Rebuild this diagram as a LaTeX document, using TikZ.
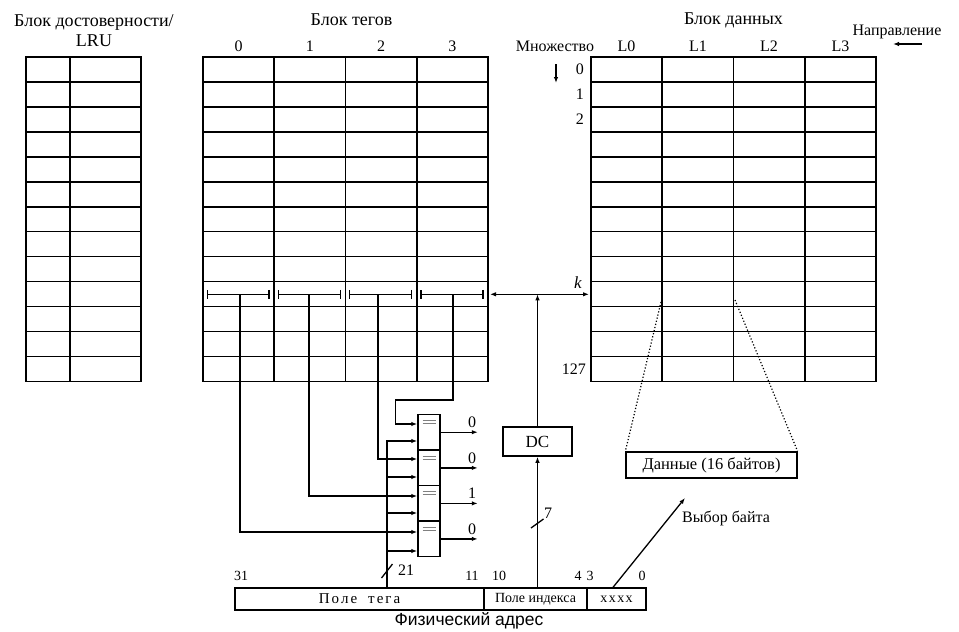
\documentclass[tikz,border=0pt]{standalone}
\usepackage{fontspec}
\setmainfont{Liberation Serif}
\newfontfamily\sansfam{Liberation Sans}
\usetikzlibrary{arrows.meta,calc}
\begin{document}
\begin{tikzpicture}[x=1pt,y=-1pt,
  grid/.style={line width=1.6pt,line cap=rect},
  wire/.style={line width=1.3pt},
  arr/.style={wire,-{Latex[length=6pt,width=4.5pt]}},
  txt/.style={inner sep=0pt,font=\fontsize{16}{18}\selectfont},
  head/.style={inner sep=0pt,font=\fontsize{18}{20.5}\selectfont,align=center},
  bitn/.style={inner sep=0pt,font=\fontsize{14}{16}\selectfont},
  cmpbox/.style={draw,line width=1.5pt,minimum width=22pt,minimum height=35.6pt,inner sep=0pt},
  field/.style={draw,line width=1.3pt,minimum height=22pt,inner sep=0pt,font=\fontsize{14}{16}\selectfont},
  eqmark/.style={gray,line width=0.9pt},
  bracket/.style={wire,{Bar[width=9pt]}-{Bar[width=9pt]}},
]
\useasboundingbox (0,0) rectangle (959,632);

% ---------- left block (validity / LRU)
\foreach \i in {0,...,13} \draw[grid] (26,{57+24.95*\i}) -- (141,{57+24.95*\i});
\foreach \x in {26,70,141} \draw[grid] (\x,57) -- (\x,381.4);

% ---------- tag block
\foreach \i in {0,...,13} \draw[grid] (203,{57+24.95*\i}) -- (488,{57+24.95*\i});
\foreach \x in {203,274.25,345.5,416.75,488} \draw[grid] (\x,57) -- (\x,381.4);

% ---------- data block
\foreach \i in {0,...,13} \draw[grid] (591,{57+24.95*\i}) -- (876,{57+24.95*\i});
\foreach \x in {591,662.25,733.5,804.75,876} \draw[grid] (\x,57) -- (\x,381.4);

% ---------- titles
\node[head] (tval) at (94,30.5) {Блок достоверности/\\LRU};
\node[head] (ttag) at (351.5,20) {Блок тегов};
\node[head] (tdat) at (733.5,20) {Блок данных};
\foreach \n/\x in {0/238.6,1/309.9,2/381.1,3/452.4} \node[txt] (wl\n) at (\x,46) {\n};
\foreach \n/\x in {0/626.6,1/697.9,2/769.1,3/840.4} \node[txt] (dl\n) at (\x,46) {L\n};
\node[txt] (mset) at (555,46) {Множество};
\coordinate (msa) at (556,64);
\coordinate (msb) at (556,83);
\draw[arr] (msa) -- (msb);
\node[txt,anchor=east] (r0) at (584,69.5) {0};
\node[txt,anchor=east] (r1) at (584,94.4) {1};
\node[txt,anchor=east] (r2) at (584,119.4) {2};
\node[txt,anchor=east] (r127) at (586,369.4) {127};
\node[txt] (dir) at (897,32) {Направление};
\coordinate (dira) at (922,44);
\coordinate (dirb) at (893,44);
\draw[arr] (dira) -- (dirb);

% ---------- row k brackets
\foreach \c in {0,1,2,3}
  \draw[bracket] ({203+71.25*\c+3.5},294.3) -- ({203+71.25*(\c+1)-4.5},294.3);
\coordinate (w0) at (240,294.3);
\coordinate (w1) at (309,294.3);
\coordinate (w2) at (378,294.3);
\coordinate (w3) at (453,294.3);
\coordinate (kl) at (490,294.3);
\coordinate (kr) at (589,294.3);
\draw[wire,{Latex[length=6pt,width=4.5pt]}-{Latex[length=6pt,width=4.5pt]}] (kl) -- (kr);
\node[txt,font=\fontsize{17}{18}\selectfont\itshape] (klab) at (578,283) {k};

% ---------- comparators
\node[cmpbox] (c3) at (429,432.2) {};
\node[cmpbox] (c2) at (429,467.9) {};
\node[cmpbox] (c1) at (429,503.4) {};
\node[cmpbox] (c0) at (429,538.9) {};
\foreach \c in {c0,c1,c2,c3} {
  \draw[eqmark] ($(\c.north)+(-6.5,6.8)$) -- ++(13,0);
  \draw[eqmark] ($(\c.north)+(-6.5,9.6)$) -- ++(13,0);
}
\draw[arr] (c3.east) -- ++(37,0) node[txt,pos=0.85,above=4pt] (o3) {0};
\draw[arr] (c2.east) -- ++(37,0) node[txt,pos=0.85,above=4pt] (o2) {0};
\draw[arr] (c1.east) -- ++(37,0) node[txt,pos=0.85,above=4pt] (o1) {1};
\draw[arr] (c0.east) -- ++(37,0) node[txt,pos=0.85,above=4pt] (o0) {0};

% ways into comparators
\draw[arr] (w3) -- (453,400) -| ($([yshift=8.2pt]c3.west)+(-22,0)$) -- ([yshift=8.2pt]c3.west);
\draw[arr] (w2) |- ([yshift=8.9pt]c2.west);
\draw[arr] (w1) |- ([yshift=7.4pt]c1.west);
\draw[arr] (w0) |- ([yshift=6.9pt]c0.west);

% ---------- physical address
\node[field,minimum width=249pt,font=\fontsize{15}{16}\selectfont] (tagf) at (359.5,599) {П\kern2ptо\kern2ptл\kern2ptе\hspace{11pt}т\kern2ptе\kern2ptг\kern2ptа};
\node[field,minimum width=103pt] (idxf) at (535.5,599) {Поле индекса};
\node[field,minimum width=59pt] (bytef) at (616.5,599) {x\kern1.5ptx\kern1.5ptx\kern1.5ptx};
\node[inner sep=0pt,font=\sansfam\fontsize{17.5}{19}\selectfont] (phys) at (469,621) {Физический адрес};
\node[bitn] (b31) at (241,576) {31};
\node[bitn] (b11) at (472,576) {11};
\node[bitn] (b10) at (499,576) {10};
\node[bitn] (b4) at (578,576) {4};
\node[bitn] (b3) at (590,576) {3};
\node[bitn] (b0) at (642,576) {0};

% tag bus
\coordinate (tb) at ([xshift=27.5pt]tagf.north);
\draw[arr] (tb) |- ([yshift=-8.8pt]c3.west);
\draw[arr] ([yshift=-9.1pt]c2.west -| tb) -- ([yshift=-9.1pt]c2.west);
\draw[arr] ([yshift=-9.6pt]c1.west -| tb) -- ([yshift=-9.6pt]c1.west);
\draw[arr] ([yshift=-12.1pt]c0.west -| tb) -- ([yshift=-12.1pt]c0.west);
\draw[wire] (381.5,578) -- (392.5,564);
\node[txt,anchor=west] (n21) at (398,570) {21};

% ---------- decoder
\node[draw,line width=1.5pt,minimum width=69pt,minimum height=29pt,txt,font=\fontsize{17}{18}\selectfont] (dc) at (537.5,441.5) {DC};
\draw[arr] (dc.south |- idxf.north) -- (dc.south);
\draw[arr] (dc.north) -- (dc.north |- kl);
\draw[wire] (531,528) -- (543.5,519);
\node[txt,anchor=west] (n7) at (544,513) {7};

% ---------- data word
\node[draw,line width=1.3pt,minimum width=171pt,minimum height=26pt,inner sep=0pt,font=\fontsize{16.5}{18}\selectfont] (dbox) at (711.5,465) {Данные (16 байтов)};
\coordinate (dlt) at (661,302);
\coordinate (drt) at (735,300);
\draw[dotted,line width=1.2pt] (dlt) -- (dbox.north west);
\draw[dotted,line width=1.2pt] (drt) -- (dbox.north east);

% byte select
\coordinate (bsel) at (685,498);
\draw[arr] ([xshift=-3.5pt]bytef.north) -- (bsel);
\node[txt,anchor=west] (bsl) at (682,518) {Выбор байта};
\end{tikzpicture}
\end{document}
